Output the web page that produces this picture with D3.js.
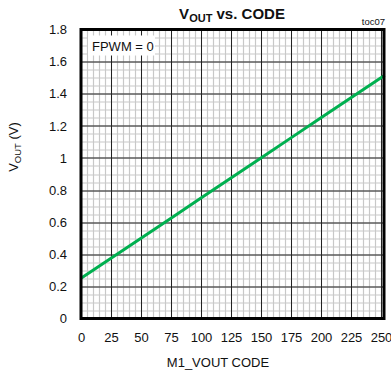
<!DOCTYPE html>
<html>
<head>
<meta charset="utf-8">
<script src="https://cdn.jsdelivr.net/npm/d3@7"></script>
<style>
  body { margin: 0; background: #fff; }
  svg text { font-family: "Liberation Sans Narrow", "Liberation Sans", Arial, sans-serif; }
</style>
</head>
<body>
<svg id="chart"></svg>
<script>
// data: VOUT vs M1_VOUT code
var codes = [0, 25, 50, 75, 100, 125, 150, 175, 200, 225, 250, 253];
var vout = [0.25, 0.375, 0.5, 0.625, 0.75, 0.875, 1.0, 1.125, 1.25, 1.375, 1.5, 1.515];
var xTicks = [0, 25, 50, 75, 100, 125, 150, 175, 200, 225, 250];
var yTicks = [0, 0.2, 0.4, 0.6, 0.8, 1, 1.2, 1.4, 1.6, 1.8];

var screen = {width:391, height:376};
var margins = {top:29.5, bottom:57.5, left:81, right:7};
var graph = {
    width:screen.width-margins.left-margins.right,
    height:screen.height-margins.top-margins.bottom
};

var xScale = d3.scaleLinear()
    .domain([0,252.5])
    .range([0,graph.width]);

var yScale = d3.scaleLinear()
    .domain([0,1.8])
    .range([graph.height,0]);

var svg = d3.select("#chart")
    .attr("width",screen.width)
    .attr("height",screen.height);

var g = svg.append("g")
    .attr("transform","translate("+margins.left+","+margins.top+")");

// minor grid
var xMinor = d3.range(0,252.5,5);
var yMinor = d3.range(0,1.8001,0.05);

g.selectAll(".xminor").data(xMinor).enter().append("line")
    .attr("x1",function(d){return Math.round(xScale(d))+0.5;})
    .attr("x2",function(d){return Math.round(xScale(d))+0.5;})
    .attr("y1",0).attr("y2",graph.height)
    .attr("stroke","#c8c8c8").attr("stroke-width",1.2);

g.selectAll(".yminor").data(yMinor).enter().append("line")
    .attr("y1",function(d){return Math.round(yScale(d))+0.5;})
    .attr("y2",function(d){return Math.round(yScale(d))+0.5;})
    .attr("x1",0).attr("x2",graph.width)
    .attr("stroke","#c8c8c8").attr("stroke-width",1.2);

// major grid
g.selectAll(".xmajor").data(xTicks).enter().append("line")
    .attr("x1",function(d){return Math.round(xScale(d))+0.5;})
    .attr("x2",function(d){return Math.round(xScale(d))+0.5;})
    .attr("y1",0).attr("y2",graph.height)
    .attr("stroke","#222").attr("stroke-width",1);

g.selectAll(".ymajor").data(yTicks).enter().append("line")
    .attr("y1",function(d){return Math.round(yScale(d))+0.5;})
    .attr("y2",function(d){return Math.round(yScale(d))+0.5;})
    .attr("x1",0).attr("x2",graph.width)
    .attr("stroke","#222").attr("stroke-width",1);

// label box
g.append("rect")
    .attr("x",7).attr("y",6)
    .attr("width",67).attr("height",20)
    .attr("fill","#fff");
g.append("text")
    .attr("x",11).attr("y",21)
    .attr("font-size",13)
    .attr("fill","#111")
    .text("FPWM = 0");

// data line
var line = d3.line()
    .x(function(d,i){return xScale(codes[i]);})
    .y(function(d){return yScale(d);});

g.append("path")
    .datum(vout)
    .attr("d",line)
    .attr("fill","none")
    .attr("stroke","#00b050")
    .attr("stroke-width",3);

// frame
g.append("rect")
    .attr("x",0).attr("y",0)
    .attr("width",graph.width).attr("height",graph.height)
    .attr("fill","none")
    .attr("stroke","#000")
    .attr("stroke-width",3);

// axes tick labels
var xAxis = d3.axisBottom(xScale).tickValues(xTicks).tickSize(0).tickPadding(14)
    .tickFormat(d3.format("d"));
var yAxis = d3.axisLeft(yScale).tickValues(yTicks).tickSize(0).tickPadding(14)
    .tickFormat(function(d){return d===0||d===1 ? d3.format("d")(d) : d3.format(".1f")(d);});

var xa = g.append("g")
    .attr("transform","translate(0,"+graph.height+")")
    .call(xAxis);
var ya = g.append("g").call(yAxis);

[xa,ya].forEach(function(a){
    a.select(".domain").remove();
    a.selectAll("text")
        .attr("font-size",13)
        .attr("fill","#111")
        .style("font-family","\"Liberation Sans Narrow\", \"Liberation Sans\", Arial, sans-serif");
});

// title
var title = svg.append("text")
    .attr("x",232).attr("y",19)
    .attr("text-anchor","middle")
    .attr("font-size",15)
    .attr("font-weight","bold")
    .attr("fill","#111");
title.append("tspan").text("V");
title.append("tspan").attr("font-size",11).attr("dy",3).text("OUT");
title.append("tspan").attr("dy",-3).text(" vs. CODE");

svg.append("text")
    .attr("x",385).attr("y",25)
    .attr("text-anchor","end")
    .attr("font-size",9.5)
    .attr("fill","#111")
    .text("toc07");

// axis titles
svg.append("text")
    .attr("x",218).attr("y",367)
    .attr("text-anchor","middle")
    .attr("font-size",13)
    .attr("fill","#111")
    .text("M1_VOUT CODE");

var yl = svg.append("text")
    .attr("transform","translate(18,147) rotate(-90)")
    .attr("text-anchor","middle")
    .attr("font-size",13)
    .attr("fill","#111");
yl.append("tspan").text("V");
yl.append("tspan").attr("font-size",9.5).attr("dy",3).text("OUT");
yl.append("tspan").attr("dy",-3).text(" (V)");
</script>
</body>
</html>
